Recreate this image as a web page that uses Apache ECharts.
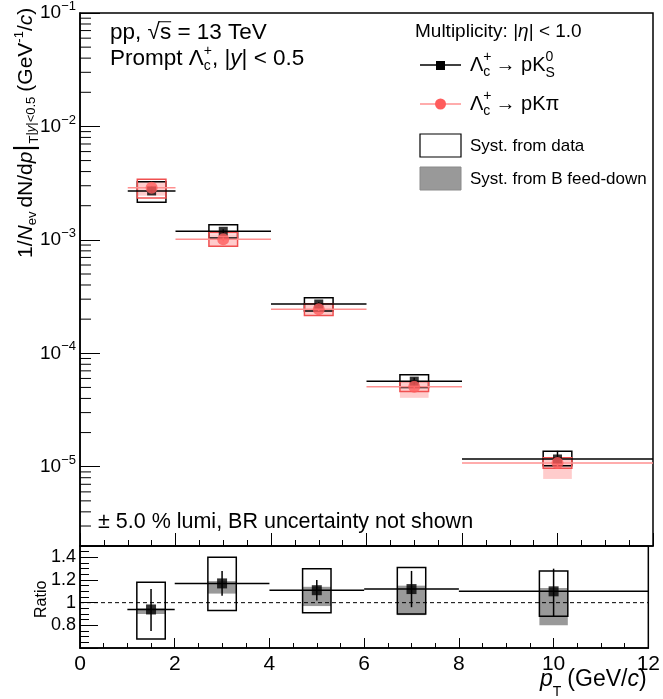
<!DOCTYPE html>
<html>
<head>
<meta charset="utf-8">
<script src="https://cdn.jsdelivr.net/npm/echarts@6/dist/echarts.min.js"></script>
<style>
html, body { margin: 0; padding: 0; background: #fff; }
#chart { width: 663px; height: 699px; }
</style>
</head>
<body>
<div id="chart"></div>
<script>
// pT bins (GeV/c)
const binLow = [1, 2, 4, 6, 8];
const binHigh = [2, 4, 6, 8, 12];
const ptCenter = [1.5, 3, 5, 7, 10];

// Lambda_c -> p K0S
const k0sYield = [2.70e-3, 1.19e-3, 2.72e-4, 5.68e-5, 1.17e-5];
const k0sStatLo = [2.58e-3, 1.14e-3, 2.62e-4, 5.30e-5, 1.05e-5];
const k0sStatHi = [2.82e-3, 1.24e-3, 2.82e-4, 6.10e-5, 1.38e-5];
const k0sSystLo = [2.15e-3, 1.04e-3, 2.36e-4, 5.00e-5, 1.02e-5];
const k0sSystHi = [3.25e-3, 1.36e-3, 3.08e-4, 6.46e-5, 1.37e-5];

// Lambda_c -> p K pi
const kpiYield = [2.88e-3, 1.01e-3, 2.44e-4, 5.06e-5, 1.08e-5];
const kpiStatLo = [2.76e-3, 0.97e-3, 2.36e-4, 4.80e-5, 1.00e-5];
const kpiStatHi = [3.00e-3, 1.05e-3, 2.52e-4, 5.32e-5, 1.16e-5];
const kpiSystLo = [2.34e-3, 0.88e-3, 2.15e-4, 4.60e-5, 9.70e-6];
const kpiSystHi = [3.43e-3, 1.16e-3, 2.74e-4, 5.60e-5, 1.20e-5];
const kpiFdLo = [2.45e-3, 0.88e-3, 2.15e-4, 4.05e-5, 7.80e-6];
const kpiFdHi = [3.30e-3, 1.12e-3, 2.70e-4, 5.50e-5, 1.18e-5];

// ratio pK0S / pKpi
const ratio = [0.94, 1.17, 1.11, 1.12, 1.10];
const ratioStatLo = [0.75, 1.06, 1.02, 0.96, 0.88];
const ratioStatHi = [1.12, 1.28, 1.20, 1.28, 1.30];
const ratioSystLo = [0.68, 0.93, 0.91, 0.90, 0.88];
const ratioSystHi = [1.18, 1.40, 1.30, 1.31, 1.28];
const ratioFdLo = [0.90, 1.08, 0.97, 0.89, 0.80];
const ratioFdHi = [0.95, 1.19, 1.14, 1.15, 1.13];

const xTicks = [0, 2, 4, 6, 8, 10, 12];
const boxHalf = 0.3;

const FONT = '"Liberation Sans", Arial, sans-serif';
const RED = '#ff5c5c';
const RED_LINE = '#ff9090';
const RED_BOX = '#f05050';
const RED_FD = 'rgba(255,110,110,0.35)';
const GRAY = '#999999';

// measuring text so that sub/superscripts can be laid out
const mctx = document.createElement('canvas').getContext('2d');
function tw(t, s, it) {
    mctx.font = (it ? 'italic ' : '') + s + 'px ' + FONT;
    return mctx.measureText(t).width;
}
// parts: {t, s, dy, i, ov} or {stack: [...]}
function textRun(x, y, parts, rotation) {
    const children = [];
    let cx = 0;
    parts.forEach(function (p) {
        const items = p.stack || [p];
        let adv = 0;
        items.forEach(function (q) {
            children.push({
                type: 'text', x: cx, y: q.dy || 0,
                style: {
                    text: q.t, fontSize: q.s, fontFamily: FONT,
                    fontStyle: q.i ? 'italic' : 'normal', fill: '#000',
                    verticalAlign: 'middle', textVerticalAlign: 'middle'
                }
            });
            const w = tw(q.t, q.s, q.i);
            if (q.ov) {
                children.push({
                    type: 'line',
                    shape: { x1: cx - 1, y1: (q.dy || 0) - q.s * 0.5, x2: cx + w, y2: (q.dy || 0) - q.s * 0.5 },
                    style: { stroke: '#000', lineWidth: 1 }
                });
            }
            adv = Math.max(adv, w);
        });
        cx += adv + (p.gap || 0);
    });
    return { type: 'group', x: x, y: y, rotation: rotation || 0, children: children };
}

function boxes(xs, lo, hi) {
    return xs.map(function (c, i) { return [c - boxHalf, c + boxHalf, lo[i], hi[i]]; });
}
function boxRender(fill, stroke) {
    return function (params, api) {
        const a = api.coord([api.value(0), api.value(3)]);
        const b = api.coord([api.value(1), api.value(2)]);
        return {
            type: 'rect',
            shape: { x: a[0], y: a[1], width: b[0] - a[0], height: b[1] - a[1] },
            style: { fill: fill, stroke: stroke, lineWidth: stroke === 'none' ? 0 : 1.5 }
        };
    };
}
function errData(val, lo, hi) {
    return ptCenter.map(function (c, i) { return [c, binLow[i], binHigh[i], val[i], lo[i], hi[i]]; });
}
function errRender(color, width) {
    return function (params, api) {
        const l = api.coord([api.value(1), api.value(3)]);
        const r = api.coord([api.value(2), api.value(3)]);
        const t = api.coord([api.value(0), api.value(5)]);
        const b = api.coord([api.value(0), api.value(4)]);
        return {
            type: 'group',
            children: [
                { type: 'line', shape: { x1: l[0], y1: l[1], x2: r[0], y2: r[1] }, style: { stroke: color, lineWidth: width } },
                { type: 'line', shape: { x1: t[0], y1: t[1], x2: b[0], y2: b[1] }, style: { stroke: color, lineWidth: width } }
            ]
        };
    };
}

// minor ticks of the log axis (2..9 x 10^k)
const logMinor = [];
[-6, -5, -4, -3, -2].forEach(function (e) {
    [2, 3, 4, 5, 6, 7, 8, 9].forEach(function (m) {
        const v = m * Math.pow(10, e);
        if (v > 2e-6 && v < 0.1) logMinor.push([0, v]);
    });
});

function logLabel(v) {
    const e = Math.log10(v);
    const n = Math.round(e);
    if (Math.abs(e - n) > 1e-6) return '';
    return '{b|10}{s|\u2212' + (-n) + '}';
}

const chart = echarts.init(document.getElementById('chart'));

const axisLineStyle = { show: true, lineStyle: { color: '#000', width: 1.5 } };

chart.setOption({
    animation: false,
    backgroundColor: '#fff',
    grid: [
        { left: 80, top: 10, width: 573, height: 536, show: true, borderColor: '#000', borderWidth: 1.5 },
        { left: 80, top: 546, width: 573, height: 102, show: true, borderColor: '#000', borderWidth: 1.5 }
    ],
    xAxis: [
        {
            gridIndex: 0, type: 'value', min: 0, max: 12, interval: 2,
            axisLine: axisLineStyle,
            axisTick: { inside: true, length: 13, lineStyle: { color: '#000' } },
            minorTick: { show: true, splitNumber: 4, length: 6, lineStyle: { color: '#000' } },
            axisLabel: { show: false },
            splitLine: { show: false }
        },
        {
            gridIndex: 1, type: 'value', min: 0, max: 12, interval: 2,
            axisLine: axisLineStyle,
            axisTick: { inside: true, length: 10, lineStyle: { color: '#000' } },
            minorTick: { show: true, splitNumber: 4, length: 5, lineStyle: { color: '#000' } },
            axisLabel: {
                color: '#000', fontSize: 21, fontFamily: FONT, margin: 6,
                formatter: function (v) { return xTicks.indexOf(v) >= 0 ? String(v) : ''; }
            },
            splitLine: { show: false }
        }
    ],
    yAxis: [
        {
            gridIndex: 0, type: 'log', logBase: 10, min: 2e-6, max: 0.1,
            axisLine: axisLineStyle,
            axisTick: { inside: true, length: 20, lineStyle: { color: '#000' } },
            axisLabel: {
                margin: 4, formatter: logLabel,
                rich: {
                    b: { fontSize: 19, fontFamily: FONT, color: '#000', lineHeight: 26 },
                    s: { fontSize: 13, fontFamily: FONT, color: '#000', lineHeight: 15, verticalAlign: 'top' }
                }
            },
            splitLine: { show: false }
        },
        {
            gridIndex: 1, type: 'value', min: 0.6, max: 1.5, interval: 0.2,
            axisLine: axisLineStyle,
            axisTick: { inside: true, length: 18, lineStyle: { color: '#000' } },
            minorTick: { show: true, splitNumber: 4, length: 9, lineStyle: { color: '#000' } },
            axisLabel: {
                color: '#000', fontSize: 18, fontFamily: FONT, margin: 4,
                formatter: function (v) {
                    const r = Math.round(v * 10) / 10;
                    return (r >= 0.8 && r <= 1.4 && Math.abs(v - r) < 1e-6) ? String(r) : '';
                }
            },
            splitLine: { show: false }
        }
    ],
    series: [
        // log-axis minor ticks
        {
            type: 'custom', xAxisIndex: 0, yAxisIndex: 0, silent: true, data: logMinor,
            renderItem: function (params, api) {
                const p = api.coord([api.value(0), api.value(1)]);
                return { type: 'line', shape: { x1: p[0], y1: p[1], x2: p[0] + 11, y2: p[1] }, style: { stroke: '#000', lineWidth: 1 } };
            }
        },
        // upper panel: pKpi feed-down, then systematic boxes
        { type: 'custom', xAxisIndex: 0, yAxisIndex: 0, data: boxes(ptCenter, kpiFdLo, kpiFdHi), renderItem: boxRender(RED_FD, 'none') },
        { type: 'custom', xAxisIndex: 0, yAxisIndex: 0, data: boxes(ptCenter, k0sSystLo, k0sSystHi), renderItem: boxRender('none', '#000') },
        { type: 'custom', xAxisIndex: 0, yAxisIndex: 0, data: boxes(ptCenter, kpiSystLo, kpiSystHi), renderItem: boxRender('none', RED_BOX) },
        { type: 'custom', xAxisIndex: 0, yAxisIndex: 0, data: errData(k0sYield, k0sStatLo, k0sStatHi), renderItem: errRender('#000', 1.5) },
        { type: 'custom', xAxisIndex: 0, yAxisIndex: 0, data: errData(kpiYield, kpiStatLo, kpiStatHi), renderItem: errRender(RED_LINE, 1.5) },
        {
            type: 'scatter', xAxisIndex: 0, yAxisIndex: 0, symbol: 'rect', symbolSize: 9,
            itemStyle: { color: '#000' },
            data: ptCenter.map(function (c, i) { return [c, k0sYield[i]]; })
        },
        {
            type: 'scatter', xAxisIndex: 0, yAxisIndex: 0, symbol: 'circle', symbolSize: 12,
            itemStyle: { color: RED },
            data: ptCenter.map(function (c, i) { return [c, kpiYield[i]]; })
        },
        // ratio panel
        {
            type: 'line', xAxisIndex: 1, yAxisIndex: 1, symbol: 'none', silent: true,
            lineStyle: { color: '#000', width: 1, type: [4, 3] },
            data: [[0, 1], [12, 1]]
        },
        { type: 'custom', xAxisIndex: 1, yAxisIndex: 1, data: boxes(ptCenter, ratioFdLo, ratioFdHi), renderItem: boxRender(GRAY, 'none') },
        { type: 'custom', xAxisIndex: 1, yAxisIndex: 1, data: boxes(ptCenter, ratioSystLo, ratioSystHi), renderItem: boxRender('none', '#000') },
        { type: 'custom', xAxisIndex: 1, yAxisIndex: 1, data: errData(ratio, ratioStatLo, ratioStatHi), renderItem: errRender('#000', 1.5) },
        {
            type: 'scatter', xAxisIndex: 1, yAxisIndex: 1, symbol: 'rect', symbolSize: 10,
            itemStyle: { color: '#000' },
            data: ptCenter.map(function (c, i) { return [c, ratio[i]]; })
        }
    ],
    graphic: [
        // header text
        textRun(110, 33, [
            { t: 'pp, ', s: 22.5 }, { t: '\u221A', s: 22.5 }, { t: 's', s: 22.5, ov: true }, { t: ' = 13 TeV', s: 22.5 }
        ]),
        textRun(110, 59, [
            { t: 'Prompt \u039B', s: 22.5 },
            { stack: [{ t: '+', s: 14, dy: -8 }, { t: 'c', s: 14, dy: 7 }] },
            { t: ', |', s: 22.5 }, { t: 'y', s: 22.5, i: true }, { t: '| < 0.5', s: 22.5 }
        ]),
        textRun(98, 522, [{ t: '\u00B1 5.0 % lumi, BR uncertainty not shown', s: 21.5 }]),
        // legend
        textRun(415, 32, [{ t: 'Multiplicity: |', s: 19 }, { t: '\u03B7', s: 19, i: true }, { t: '| < 1.0', s: 19 }]),
        { type: 'line', shape: { x1: 420, y1: 65, x2: 461, y2: 65 }, style: { stroke: '#000', lineWidth: 1.5 } },
        { type: 'rect', shape: { x: 436, y: 61, width: 9, height: 9 }, style: { fill: '#000' } },
        textRun(470, 65, [
            { t: '\u039B', s: 20 },
            { stack: [{ t: '+', s: 14, dy: -8 }, { t: 'c', s: 14, dy: 7 }], gap: 4 },
            { t: '\u2192 pK', s: 20 },
            { stack: [{ t: '0', s: 14, dy: -8 }, { t: 'S', s: 14, dy: 8 }] }
        ]),
        { type: 'line', shape: { x1: 420, y1: 104, x2: 461, y2: 104 }, style: { stroke: RED_LINE, lineWidth: 1.5 } },
        { type: 'circle', shape: { cx: 440.5, cy: 104, r: 5.5 }, style: { fill: RED } },
        textRun(470, 104, [
            { t: '\u039B', s: 20 },
            { stack: [{ t: '+', s: 14, dy: -8 }, { t: 'c', s: 14, dy: 7 }], gap: 4 },
            { t: '\u2192 pK\u03C0', s: 20 }
        ]),
        { type: 'rect', shape: { x: 420, y: 134, width: 41, height: 23 }, style: { fill: '#fff', stroke: '#000', lineWidth: 1.2 } },
        textRun(470, 146, [{ t: 'Syst. from data', s: 17 }]),
        { type: 'rect', shape: { x: 420, y: 167, width: 41, height: 23 }, style: { fill: GRAY, stroke: '#8a8a8a', lineWidth: 1 } },
        textRun(470, 179, [{ t: 'Syst. from B feed-down', s: 17 }]),
        // y-axis title (reads bottom to top)
        textRun(26, 258, [
            { t: '1/', s: 21 }, { t: 'N', s: 21, i: true }, { t: 'ev', s: 13, dy: 6, gap: 4 },
            { t: 'dN/d', s: 21 }, { t: 'p', s: 21, i: true }, { t: '|', s: 27, gap: 1 },
            { stack: [{ t: 'T', s: 13, dy: 8 }] }, { t: '|', s: 13, dy: 5 }, { t: 'y', s: 13, dy: 5, i: true },
            { t: '|<0.5', s: 13, dy: 5, gap: 5 },
            { t: '(GeV', s: 21 }, { t: '-1', s: 13, dy: -7 }, { t: '/', s: 21 }, { t: 'c', s: 21, i: true }, { t: ')', s: 21 }
        ], Math.PI / 2),
        textRun(42, 618, [{ t: 'Ratio', s: 16 }], Math.PI / 2),
        // x-axis title
        textRun(540, 680, [
            { t: 'p', s: 23, i: true }, { t: 'T', s: 14, dy: 12, gap: 6 },
            { t: '(GeV/', s: 23 }, { t: 'c', s: 23, i: true }, { t: ')', s: 23 }
        ])
    ]
});
</script>
</body>
</html>
